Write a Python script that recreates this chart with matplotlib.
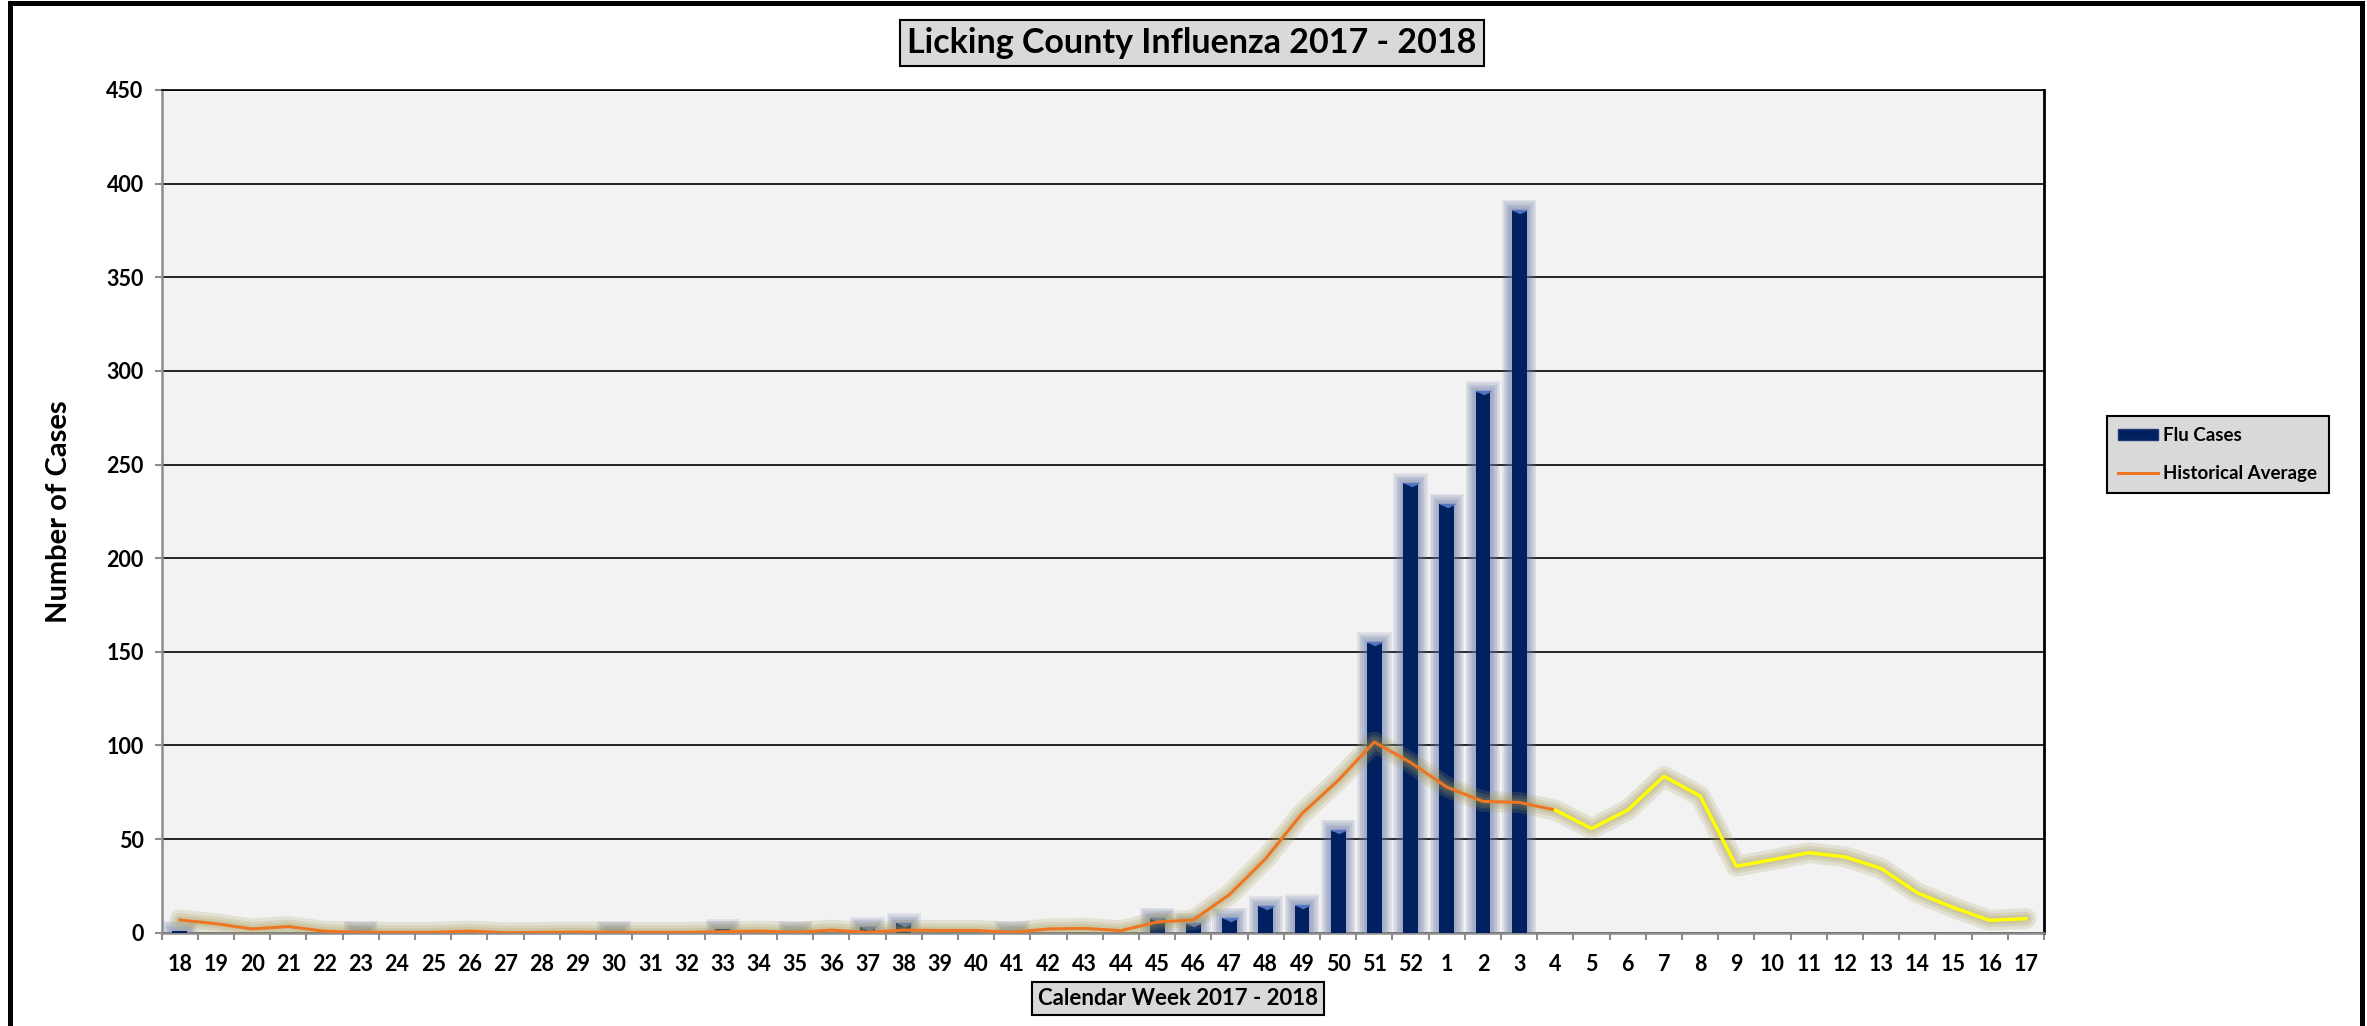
import matplotlib.pyplot as plt
from matplotlib.patches import Patch, Rectangle
from matplotlib.lines import Line2D

W, H = 2367, 1026
plt.rcParams['font.family'] = ['Lato', 'DejaVu Sans']
plt.rcParams['font.weight'] = 'bold'

week_labels = ['18', '19', '20', '21', '22', '23', '24', '25', '26', '27', '28', '29',
               '30', '31', '32', '33', '34', '35', '36', '37', '38', '39', '40', '41',
               '42', '43', '44', '45', '46', '47', '48', '49', '50', '51', '52',
               '1', '2', '3', '4', '5', '6', '7', '8', '9', '10', '11', '12', '13',
               '14', '15', '16', '17']

# flu cases reported so far (weeks 18 .. 3)
flu_cases = [1, 0, 0, 0, 0, 1, 0, 0, 0, 0, 0, 0, 1, 0, 0, 2, 0, 1, 0, 3, 5, 0, 0, 1,
             0, 0, 0, 8, 5, 8, 14, 15, 55, 155, 240, 229, 289, 386]

# historical average, all weeks
hist_avg = [6.8, 4.8, 2.0, 3.3, 0.8, 0.2, 0.2, 0.2, 0.9, 0.0, 0.2, 0.3, 0.2, 0.2,
            0.2, 0.5, 0.9, 0.2, 1.4, 0.2, 1.4, 1.2, 1.2, 0.2, 2.0, 2.3, 1.1, 5.7,
            6.8, 20.4, 39.6, 63.6, 81.3, 101.8, 90.9, 77.8, 70.1, 69.6, 65.5, 55.6,
            65.5, 83.5, 73.0, 35.5, 39.0, 42.7, 40.5, 34.3, 21.3, 13.4, 6.6, 7.5]

y_ticks = [0, 50, 100, 150, 200, 250, 300, 350, 400, 450]

navy = '#002060'
orange = '#ee7521'
split = week_labels.index('4')

fig = plt.figure(figsize=(W / 100, H / 100), dpi=100)
ax = fig.add_axes([161.7 / W, 1 - 932.7 / H, (2044 - 161.7) / W, 842.7 / H])
ax.set_facecolor('#f2f2f2')

xs = list(range(len(week_labels)))
bx = xs[:len(flu_cases)]
bw = 0.41

# soft glow around the bars
for k in range(1, 7):
    ax.bar([x for x, v in zip(bx, flu_cases) if v > 0],
           [v + k * 0.9 for v in flu_cases if v > 0],
           width=bw + k * 0.09, color='#6576a3', alpha=0.13, zorder=2, linewidth=0)
ax.bar(bx, flu_cases, width=bw, color=navy, zorder=3, linewidth=0)
ax.plot([x for x, v in zip(bx, flu_cases) if v > 2], [v for v in flu_cases if v > 2],
        linestyle='none', marker=[(-1, 0), (1, 0), (0, -0.45)], markersize=10.5,
        color='#5476c0', zorder=4)

# glow around the lines
for lw in [15, 10, 6]:
    ax.plot(xs, hist_avg, color='#a39b55', alpha=0.2, linewidth=lw,
            solid_capstyle='round', solid_joinstyle='round', zorder=5)
ax.plot(xs[:split + 1], hist_avg[:split + 1], color=orange, linewidth=2.2, zorder=6)
ax.plot(xs[split:], hist_avg[split:], color='#ffff00', linewidth=2.4, zorder=6)

ax.set_xlim(-0.5, len(week_labels) - 0.5)
ax.set_ylim(0, 450)
ax.set_yticks(y_ticks)
ax.set_yticklabels([str(t) for t in y_ticks], fontsize=15.5, fontweight='bold')
ax.set_xticks(xs)
ax.set_xticklabels(week_labels, fontsize=15.5, fontweight='bold')
ax.set_xticks([x - 0.5 for x in xs] + [xs[-1] + 0.5], minor=True)
ax.tick_params(axis='x', which='major', length=0, pad=15)
ax.tick_params(axis='x', which='minor', length=5, width=1.5, color='#8c8c8c')
ax.tick_params(axis='y', length=5, width=1.5, color='#8c8c8c', pad=8)
ax.grid(axis='y', color='black', linewidth=1.2, zorder=1)
ax.set_axisbelow(True)

for s in ['left', 'bottom']:
    ax.spines[s].set_color('#8c8c8c')
    ax.spines[s].set_linewidth(1.8)
ax.spines['right'].set_color('black')
ax.spines['right'].set_linewidth(2)
ax.spines['top'].set_color('black')
ax.spines['top'].set_linewidth(1.2)

fig.text(1192 / W, 1 - 43 / H, 'Licking County Influenza 2017 - 2018', fontsize=24.5,
         fontweight='bold', ha='center', va='center',
         bbox=dict(boxstyle='square,pad=0.22', fc='#d9d9d9', ec='black', lw=1.5))
fig.text(1178 / W, 1 - 998.5 / H, 'Calendar Week 2017 - 2018', fontsize=16,
         fontweight='bold', ha='center', va='center',
         bbox=dict(boxstyle='square,pad=0.25', fc='#d9d9d9', ec='black', lw=1.5))
fig.text(59 / W, 1 - 512 / H, 'Number of Cases', fontsize=21, fontweight='bold',
         rotation=90, ha='center', va='center')

handles = [Patch(facecolor=navy, edgecolor='#1f3a78'),
           Line2D([], [], color=orange, linewidth=2.2)]
leg = fig.legend(handles, ['Flu Cases', 'Historical Average'], loc='center left',
                 bbox_to_anchor=(2107 / W, 1 - 454.5 / H),
                 prop={'weight': 'bold', 'size': 13.5}, frameon=True, fancybox=False,
                 facecolor='#d9d9d9', edgecolor='black', framealpha=1,
                 handlelength=2.1, handleheight=0.55, handletextpad=0.3,
                 labelspacing=1.1, borderpad=0.6, borderaxespad=0)
leg.get_frame().set_linewidth(1.5)

# outer chart border
fig.patches.append(Rectangle((10 / W, -0.02), 2352 / W, 1.02 - 2.5 / H, fill=False,
                             edgecolor='black', linewidth=3.6, transform=fig.transFigure))

fig.savefig('out.png', dpi=100)
